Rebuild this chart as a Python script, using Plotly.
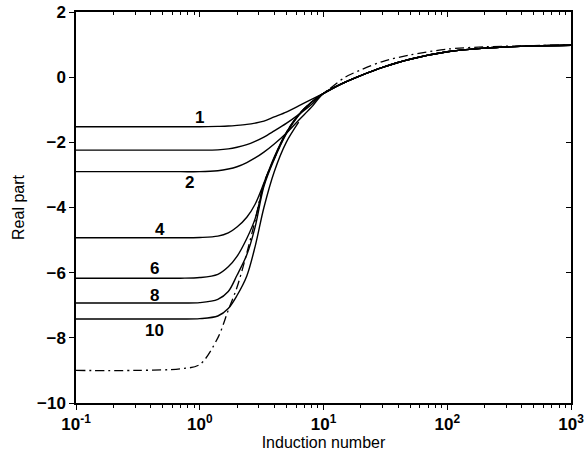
import math
import plotly.graph_objects as go

# Induction number sample points (shared grid)
induction = [0.1, 0.3, 0.7, 1.0, 1.4, 1.7, 2.0, 2.4, 2.8, 3.3, 4.0, 5.0, 6.3,
             8, 10, 15, 20, 30, 50, 100, 200, 500, 1000]

tail = [-0.50, -0.15, 0.05, 0.30, 0.55, 0.78, 0.89, 0.96, 0.98]

curve_1 = [-1.52, -1.52, -1.52, -1.52, -1.51, -1.50, -1.48, -1.45, -1.41, -1.35,
           -1.22, -1.07, -0.88, -0.68] + tail
curve_1b = [-2.24, -2.24, -2.24, -2.24, -2.23, -2.20, -2.15, -2.07, -1.97, -1.84,
            -1.65, -1.42, -1.15, -0.84] + tail
curve_2 = [-2.90, -2.90, -2.90, -2.90, -2.87, -2.82, -2.75, -2.62, -2.48, -2.30,
           -2.05, -1.72, -1.32, -0.92] + tail
curve_4 = [-4.93, -4.93, -4.93, -4.92, -4.88, -4.78, -4.60, -4.30, -3.90, -3.25,
           -2.45, -1.70, -1.15, -0.76] + tail
curve_6 = [-6.17, -6.17, -6.17, -6.15, -6.05, -5.82, -5.50, -4.95, -4.35, -3.30,
           -2.48, -1.72, -1.16, -0.77] + tail
curve_8 = [-6.93, -6.93, -6.93, -6.92, -6.82, -6.58, -6.08, -5.45, -4.60, -3.35,
           -2.52, -1.74, -1.17, -0.77] + tail
curve_10 = [-7.42, -7.42, -7.42, -7.41, -7.33, -7.10, -6.70, -6.10, -5.20, -4.00,
            -2.90, -2.00, -1.38] + [None] * 10
limit = [-9.00, -9.00, -8.95, -8.82, -8.00, -7.15, -6.45, -5.40, -4.40, -3.25,
         -2.50, -1.70, -1.15, -0.76, -0.50, 0.00, 0.22, 0.48, 0.68, 0.86,
         0.93, 0.97, 0.99]

solid_curves = [curve_1, curve_1b, curve_2, curve_4, curve_6, curve_8, curve_10]

label_text = ["1", "2", "4", "6", "8", "10"]
label_x = [1.0, 0.83, 0.48, 0.43, 0.43, 0.43]
label_y = [-1.25, -3.22, -4.66, -5.86, -6.69, -7.76]

x_tickvals = [0.1, 1, 10, 100, 1000]
x_ticktext = ["10<sup>-1</sup>", "10<sup>0</sup>", "10<sup>1</sup>",
              "10<sup>2</sup>", "10<sup>3</sup>"]
y_tickvals = [-10, -8, -6, -4, -2, 0, 2]

minor_x = [m * 10 ** e for e in range(-1, 3) for m in range(2, 10)]

fig = go.Figure()
for ys in solid_curves:
    fig.add_trace(go.Scatter(x=induction, y=ys, mode="lines",
                             line=dict(color="black", width=1.4, shape="spline", smoothing=0.9),
                             showlegend=False, hoverinfo="skip"))
fig.add_trace(go.Scatter(x=induction, y=limit, mode="lines",
                         line=dict(color="black", width=1.3, dash="9px,4px,2px,4px",
                                   shape="spline", smoothing=0.9),
                         showlegend=False, hoverinfo="skip"))
# dummy trace for mirrored axes
fig.add_trace(go.Scatter(x=[], y=[], xaxis="x2", yaxis="y2", showlegend=False))

for t, lx, ly in zip(label_text, label_x, label_y):
    fig.add_annotation(x=math.log10(lx), y=ly, xref="x", yref="y", text=t, showarrow=False,
                       font=dict(family="Liberation Sans, Arial", size=17, color="black",
                                 weight="bold"))

tickfont = dict(family="Liberation Sans, Arial", size=17, color="black", weight="bold")
fig.update_layout(
    width=587, height=464,
    margin=dict(l=76, r=16, t=12, b=61),
    paper_bgcolor="white", plot_bgcolor="white",
    xaxis=dict(type="log", range=[-1, 3], tickvals=x_tickvals, ticktext=x_ticktext,
               ticks="outside", ticklen=5, tickwidth=1.3, tickcolor="black",
               showline=True, linecolor="black", linewidth=1.5, showgrid=False,
               zeroline=False, tickfont=tickfont, automargin=False,
               minor=dict(tickvals=minor_x, ticks="outside", ticklen=3,
                          tickcolor="black", showgrid=False),
               title=dict(text="Induction number", standoff=4,
                          font=dict(family="Liberation Sans, Arial", size=16, color="black"))),
    yaxis=dict(range=[-10, 2], tickvals=y_tickvals, ticks="outside", ticklen=5,
               tickwidth=1.3, tickcolor="black", showline=True, linecolor="black",
               linewidth=1.5, showgrid=False, zeroline=False, tickfont=tickfont,
               automargin=False,
               title=dict(text="Real part", standoff=8,
                          font=dict(family="Liberation Sans, Arial", size=16, color="black"))),
    xaxis2=dict(type="log", range=[-1, 3], overlaying="x", side="top", anchor="y2",
                tickvals=x_tickvals, showticklabels=False, ticks="inside", ticklen=5,
                tickcolor="black", showline=True, linecolor="black", linewidth=1.5,
                showgrid=False, zeroline=False, automargin=False,
                minor=dict(tickvals=minor_x, ticks="inside", ticklen=3,
                           tickcolor="black", showgrid=False)),
    yaxis2=dict(range=[-10, 2], overlaying="y", side="right", anchor="x2",
                tickvals=y_tickvals, showticklabels=False, ticks="inside", ticklen=5,
                tickcolor="black", showline=True, linecolor="black", linewidth=1.5,
                showgrid=False, zeroline=False, automargin=False),
)

fig.write_html("out.html")
